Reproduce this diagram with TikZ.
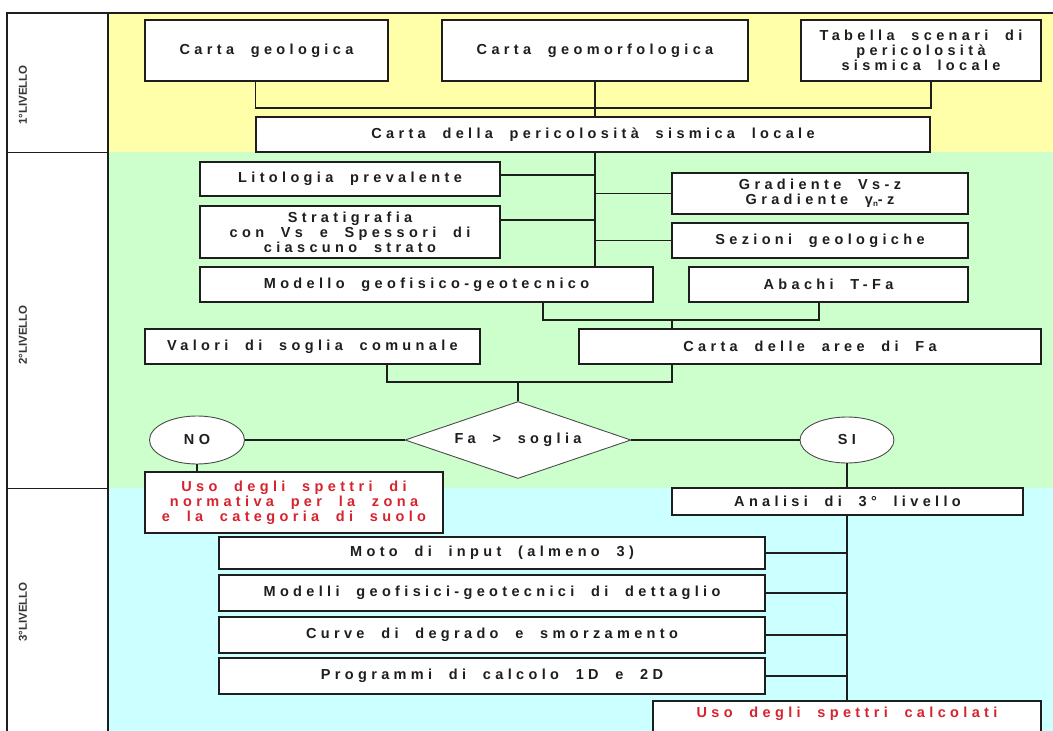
\documentclass[tikz,border=0pt]{standalone}
\usepackage{fontspec}
\setmainfont{Liberation Sans}
\newfontfamily\spfont{Liberation Sans}[LetterSpace=30,WordSpace=2]
\usetikzlibrary{shapes.geometric}
\definecolor{ybg}{RGB}{255,255,170}
\definecolor{gbg}{RGB}{204,255,204}
\definecolor{cbg}{RGB}{204,255,255}
\definecolor{ink}{RGB}{30,30,30}
\definecolor{redtxt}{RGB}{215,35,45}
\tikzset{
  box/.style={draw=ink, line width=1.6pt, fill=white, inner sep=2pt, align=center,
    text=ink, font={\spfont\bfseries\fontsize{14.5}{15}\selectfont}},
  redbox/.style={box, text=redtxt},
  oval/.style={ellipse, draw=ink!80, line width=0.9pt, fill=white, inner sep=0pt,
    text=ink, font={\spfont\bfseries\fontsize{14.5}{15}\selectfont}},
  dmd/.style={diamond, draw=ink!80, line width=0.9pt, fill=white, inner sep=0pt, aspect=2.9,
    text=ink, font={\spfont\bfseries\fontsize{14.5}{15}\selectfont}},
  conn/.style={draw=ink, line width=1.4pt},
  lvl/.style={rotate=90, text=ink!90, font={\bfseries\fontsize{11.5}{12}\selectfont}},
  frame/.style={draw=ink, line width=1.6pt}
}
\newcommand\bx[7][box]{\node[#1,minimum width={#5-#3},minimum height={#6-#4}] (#2) at ({(#3+#5)/2},{(#4+#6)/2}) {#7};}
\begin{document}
\begin{tikzpicture}[x=1pt,y=-1pt]
\useasboundingbox (0,0) rectangle (1053,731);
% bands
\fill[ybg] (108,13) rectangle (1060,152);
\fill[gbg] (108,152) rectangle (1060,488);
\fill[cbg] (108,488) rectangle (1060,740);
\fill[white] (7,13) rectangle (108,740);
\draw[frame] (1060,13) -- (7,13) -- (7,740);
\draw[draw=ink, line width=2.2pt] (108,13) -- (108,740);
\draw[draw=ink, line width=1pt] (7,152) -- (108,152);
\draw[draw=ink, line width=1pt] (7,488) -- (108,488);
\node[lvl] (l1) at (23,95) {1°LIVELLO};
\node[lvl] (l2) at (23,335) {2°LIVELLO};
\node[lvl] (l3) at (23,612) {3°LIVELLO};
% level 1
\bx{geol}{145}{20}{388}{81}{Carta geologica}
\bx{geomorf}{442}{20}{748}{81}{Carta geomorfologica}
\bx{tab}{801}{20}{1041}{81}{Tabella scenari di\\pericolosità\\sismica locale}
\bx{peric}{256}{117}{930}{152}{Carta della pericolosità sismica locale}
% level 2
\bx{lito}{200}{162}{500}{196}{Litologia prevalente}
\bx{strat}{200}{206}{500}{258}{Stratigrafia\\con Vs e Spessori di\\ciascuno strato}
\bx{modello}{200}{267}{653}{302}{Modello geofisico-geotecnico}
\bx{grad}{672}{173}{968}{214}{Gradiente Vs-z\\Gradiente γ\raisebox{-2pt}{\fontsize{8}{8}\selectfont n}-z}
\bx{sez}{672}{223}{968}{258}{Sezioni geologiche}
\bx{abachi}{689}{267}{968}{302}{Abachi T-Fa}
\bx{valori}{145}{329}{480}{364}{Valori di soglia comunale}
\bx{aree}{579}{329}{1041}{364}{Carta delle aree di Fa}
\node[dmd, minimum width=226pt, minimum height=77pt] (dia) at (518,440) {Fa > soglia};
\node[oval, minimum width=95pt, minimum height=48pt] (no) at (197,440) {NO};
\node[oval, minimum width=94pt, minimum height=46pt] (si) at (847,440) {SI};
\bx[redbox]{usonorm}{145}{472}{443}{533}{Uso degli spettri di\\normativa per la zona\\e la categoria di suolo}
% level 3
\bx{analisi}{672}{488}{1023}{515}{Analisi di 3° livello}
\bx{moto}{219}{537}{765}{569}{Moto di input (almeno 3)}
\bx{modelli}{219}{575}{765}{611}{Modelli geofisici-geotecnici di dettaglio}
\bx{curve}{219}{617}{765}{653}{Curve di degrado e smorzamento}
\bx{prog}{219}{658}{765}{694}{Programmi di calcolo 1D e 2D}
\node[redbox, anchor=north, minimum width=388pt, text height=15pt, text depth=30pt, inner ysep=2pt]
  (usocalc) at (847,700) {Uso degli spettri calcolati};
% connectors level 1
\coordinate (j1) at (0,108);
\draw[conn] (geol.south -| peric.west) -- (peric.west |- j1) -- (peric.east |- j1) -- (tab.south -| peric.east);
\draw[conn] (geomorf.south) -- (geomorf.south |- peric.north);
% connectors level 2
\draw[conn] (geomorf.south |- peric.south) -- (geomorf.south |- modello.north);
\draw[conn] ([yshift=4pt]lito.east) -- ([yshift=4pt]lito.east -| geomorf.south);
\draw[conn] ([yshift=12pt]strat.east) -- ([yshift=12pt]strat.east -| geomorf.south);
\draw[conn] (grad.west) -- (grad.west -| geomorf.south);
\draw[conn] (sez.west) -- (sez.west -| geomorf.south);
\coordinate (jm) at (543,320);
\coordinate (ja) at (819,320);
\coordinate (jc) at (672,320);
\draw[conn] (modello.south -| jm) -- (jm) -- (ja) -- (abachi.south -| ja);
\draw[conn] (jc) -- (aree.north -| jc);
\coordinate (jv) at (387,382);
\coordinate (jr) at (672,382);
\draw[conn] (valori.south -| jv) -- (jv) -- (jr) -- (aree.south -| jr);
\draw[conn] (dia.north |- jv) -- (dia.north);
\draw[conn, line width=1.1pt] (no.east) -- (dia.west);
\draw[conn, line width=1.1pt] (dia.east) -- (si.west);
\draw[conn] (no.south) -- (no.south |- usonorm.north);
\draw[conn] (si.south) -- (si.south |- analisi.north);
% connectors level 3
\draw[conn] (si.south |- analisi.south) -- (si.south |- usocalc.north);
\draw[conn] (moto.east) -- (moto.east -| si.south);
\draw[conn] (modelli.east) -- (modelli.east -| si.south);
\draw[conn] (curve.east) -- (curve.east -| si.south);
\draw[conn] (prog.east) -- (prog.east -| si.south);
\end{tikzpicture}
\end{document}
